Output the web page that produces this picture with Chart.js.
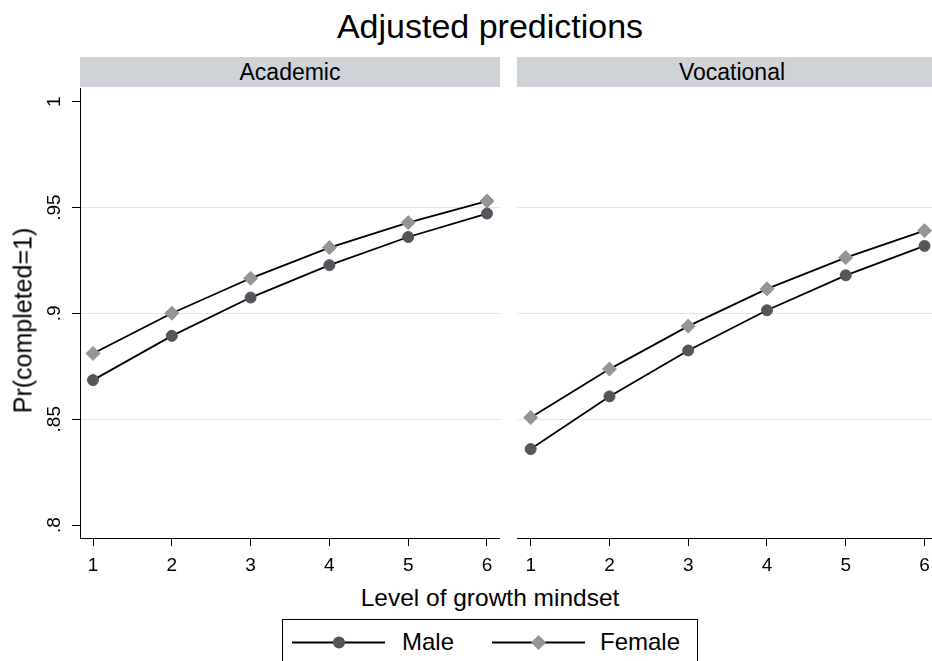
<!DOCTYPE html>
<html>
<head>
<meta charset="utf-8">
<script src="https://cdn.jsdelivr.net/npm/chart.js@4"></script>
<style>
  html, body { margin: 0; padding: 0; background: #fff; overflow: hidden; }
  body { width: 932px; height: 661px; position: relative; font-family: "Liberation Sans", Arial, sans-serif; color: #000; }
  .txt { position: absolute; white-space: nowrap; line-height: 1; }
  .strip { position: absolute; top: 57px; height: 30px; background: #cfd2d6; }
  .stripLabel { position: absolute; top: 61px; font-size: 23px; line-height: 1; text-align: center; }
  #leftBox { position: absolute; left: 0; top: 0; width: 500px; height: 580px; }
  #rightBox { position: absolute; left: 500px; top: 0; width: 432px; height: 580px; }
  #legend { position: absolute; left: 282px; top: 619px; width: 414px; height: 60px; border: 1.3px solid #000; }
</style>
</head>
<body>
<div class="txt" style="left:0; width:980px; text-align:center; top:9px; font-size:34px;">Adjusted predictions</div>

<div class="strip" style="left:80px; width:420px;"></div>
<div class="stripLabel" style="left:80px; width:420px;">Academic</div>
<div class="strip" style="left:517px; width:415px;"></div>
<div class="stripLabel" style="left:517px; width:430px;">Vocational</div>

<div id="leftBox"><canvas id="leftChart"></canvas></div>
<div id="rightBox"><canvas id="rightChart"></canvas></div>

<div class="txt" style="left:-127px; top:308px; width:300px; height:25px; font-size:25px; text-align:center; transform:rotate(-90deg);">Pr(completed=1)</div>
<div class="txt" style="left:0; width:980px; text-align:center; top:586px; font-size:24.5px;">Level of growth mindset</div>

<div id="legend">
  <svg width="414" height="45" style="position:absolute; left:0; top:0;">
    <line x1="9" y1="22.5" x2="102" y2="22.5" stroke="#000" stroke-width="1.8"/>
    <circle cx="56" cy="22.5" r="6" fill="#53575c"/>
    <line x1="209" y1="22.5" x2="302" y2="22.5" stroke="#000" stroke-width="1.8"/>
    <polygon points="248,22.5 255.5,15 263,22.5 255.5,30" fill="#939598"/>
  </svg>
  <div class="txt" style="left:119px; top:10px; font-size:24px;">Male</div>
  <div class="txt" style="left:317px; top:10px; font-size:24px;">Female</div>
</div>

<script>
// ============ Data ============
const levels = [1, 2, 3, 4, 5, 6];
const academicMale = [0.8685, 0.8894, 0.9075, 0.9228, 0.9361, 0.9472];
const academicFemale = [0.8811, 0.9001, 0.9166, 0.9311, 0.9429, 0.9531];
const vocationalMale = [0.8359, 0.8608, 0.8825, 0.9015, 0.9180, 0.9319];
const vocationalFemale = [0.8508, 0.8737, 0.8940, 0.9116, 0.9264, 0.9391];
const xTicks = [1, 2, 3, 4, 5, 6];
const yTicks = [0.8, 0.85, 0.9, 0.95, 1];
const yTickLabels = [".8", ".85", ".9", ".95", "1"];

// ============ Styles ============
const FONT = "'Liberation Sans', Arial, sans-serif";
const MALE_COLOR = "#53575c";
const FEMALE_COLOR = "#939598";
const GRID_COLOR = "#e3e5e8";

Chart.defaults.font.family = FONT;
Chart.defaults.color = "#000";

const toPoints = (vals) => levels.map((x, i) => ({ x: x, y: vals[i] }));

function makeDatasets(male, female) {
  return [
    {
      label: "Male",
      data: toPoints(male),
      borderColor: "#000",
      borderWidth: 1.8,
      pointStyle: "circle",
      pointRadius: 5.5,
      pointBorderWidth: 1,
      pointBackgroundColor: MALE_COLOR,
      pointBorderColor: MALE_COLOR,
      tension: 0,
      clip: false
    },
    {
      label: "Female",
      data: toPoints(female),
      borderColor: "#000",
      borderWidth: 1.8,
      pointStyle: "rectRot",
      pointRadius: 7,
      pointBorderWidth: 1,
      pointBackgroundColor: FEMALE_COLOR,
      pointBorderColor: FEMALE_COLOR,
      tension: 0,
      clip: false
    }
  ];
}

const gridColor = (ctx) => {
  const v = ctx.tick ? ctx.tick.value : 0;
  return (v > 0.8001 && v < 0.9999) ? GRID_COLOR : "rgba(0,0,0,0)";
};

// plot area is fixed by the layout below, no extra room for edge labels
const noPad = (s) => { s.paddingLeft = 0; s.paddingRight = 0; s.paddingTop = 0; s.paddingBottom = 0; };

function renderPanel(id, male, female, opts) {
  const ctx = document.getElementById(id).getContext("2d");
  new Chart(ctx, {
    type: "line",
    data: { datasets: makeDatasets(male, female) },
    options: {
      responsive: true,
      maintainAspectRatio: false,
      animation: false,
      layout: { autoPadding: false, padding: { top: 88, left: 0, right: 0, bottom: 0 } },
      plugins: { legend: { display: false }, tooltip: { enabled: false } },
      scales: {
        x: {
          type: "linear",
          min: opts.xMin,
          max: opts.xMax,
          afterBuildTicks: (s) => { s.ticks = xTicks.map(v => ({ value: v })); },
          afterFit: (s) => { s.height = 42; noPad(s); },
          ticks: { font: { size: 19 }, padding: 8, color: "#000", maxRotation: 0 },
          grid: { drawOnChartArea: false, drawTicks: true, tickLength: 8, tickColor: "#000", tickWidth: 1 },
          border: { display: true, color: "#000", width: 1 }
        },
        y: {
          min: 0.7939,
          max: 1.0065,
          afterBuildTicks: (s) => { s.ticks = yTicks.map(v => ({ value: v })); },
          afterFit: (s) => { s.width = opts.yWidth; noPad(s); },
          ticks: {
            display: opts.showY,
            font: { size: 19 },
            padding: 4,
            color: "#000",
            minRotation: 90,
            maxRotation: 90,
            crossAlign: "center",
            callback: (v) => {
              const i = yTicks.findIndex(t => Math.abs(t - v) < 1e-6);
              return i >= 0 ? yTickLabels[i] : "";
            }
          },
          grid: {
            color: gridColor,
            lineWidth: 1,
            drawTicks: opts.showY,
            tickLength: 8,
            tickColor: "#000",
            tickWidth: 1
          },
          border: { display: opts.showY, color: "#000", width: 1 }
        }
      }
    }
  });
}

window.addEventListener("DOMContentLoaded", () => {
  renderPanel("leftChart", academicMale, academicFemale, { xMin: 0.835, xMax: 6.165, yWidth: 80, showY: true });
  renderPanel("rightChart", vocationalMale, vocationalFemale, { xMin: 0.826, xMax: 6.095, yWidth: 17, showY: false });
});
</script>
</body>
</html>
